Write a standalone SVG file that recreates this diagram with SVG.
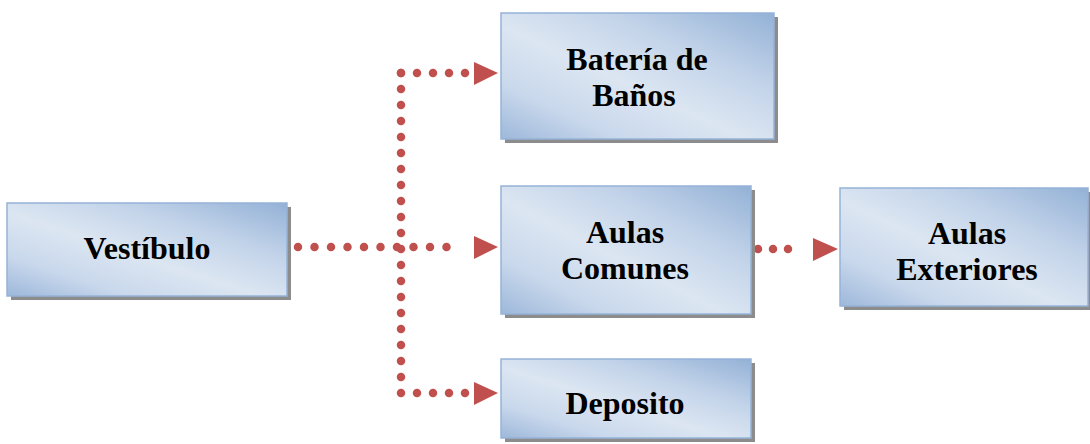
<svg xmlns="http://www.w3.org/2000/svg" width="1090" height="444" viewBox="0 0 1090 444">
<defs>
<linearGradient id="g" x1="0" y1="1" x2="1" y2="0">
<stop offset="0" stop-color="#9DB8DA"/>
<stop offset="0.22" stop-color="#C9D8EC"/>
<stop offset="0.45" stop-color="#DCE6F2"/>
<stop offset="0.7" stop-color="#C2D3E9"/>
<stop offset="1" stop-color="#93B1D6"/>
</linearGradient>
</defs>
<style>
.sh{fill:#8C8C8C}
.bx{fill:url(#g);stroke:#95B3D7;stroke-width:1.5}
.t{font-family:'Liberation Serif','DejaVu Serif',serif;font-weight:bold;font-size:32px;fill:#000;text-anchor:middle}
.d{fill:none;stroke:#C0504D;stroke-width:8.5;stroke-linecap:round;stroke-dasharray:0 16}
.a{fill:#C0504D}
</style>
<g id="connectors">
<path class="d" d="M298,247 H463" style="stroke-dasharray:0 16.5"/>
<path class="d" d="M401,73 V393"/>
<path class="d" d="M401,73 H466"/>
<path class="d" d="M401,393 H466"/>
<path class="d" d="M758,249 H803" style="stroke-dasharray:0 15"/>
<path class="a" d="M474,62 L498,73 L474,85 Z"/>
<path class="a" d="M474,236 L498,247 L474,259 Z"/>
<path class="a" d="M474,382 L498,393 L474,405 Z"/>
<path class="a" d="M813,238 L838,249 L813,261 Z"/>
</g>
<g id="vestibulo">
<rect class="sh" x="11" y="207" width="280" height="93"/>
<rect class="bx" x="7" y="203" width="280" height="93"/>
<text class="t" x="147" y="259">Vestíbulo</text>
</g>
<g id="bateria">
<rect class="sh" x="505" y="17" width="273" height="126"/>
<rect class="bx" x="501" y="13" width="273" height="126"/>
<text class="t" x="637" y="70">Batería de</text>
<text class="t" x="634" y="106">Baños</text>
</g>
<g id="aulas-comunes">
<rect class="sh" x="505" y="190" width="250" height="128"/>
<rect class="bx" x="501" y="186" width="250" height="128"/>
<text class="t" x="625" y="243">Aulas</text>
<text class="t" x="625" y="279">Comunes</text>
</g>
<g id="aulas-exteriores">
<rect class="sh" x="844" y="192" width="248" height="118"/>
<rect class="bx" x="840" y="188" width="248" height="118"/>
<text class="t" x="967" y="244">Aulas</text>
<text class="t" x="967" y="280">Exteriores</text>
</g>
<g id="deposito">
<rect class="sh" x="505" y="363" width="250" height="79"/>
<rect class="bx" x="501" y="359" width="250" height="79"/>
<text class="t" x="625" y="414">Deposito</text>
</g>
</svg>
